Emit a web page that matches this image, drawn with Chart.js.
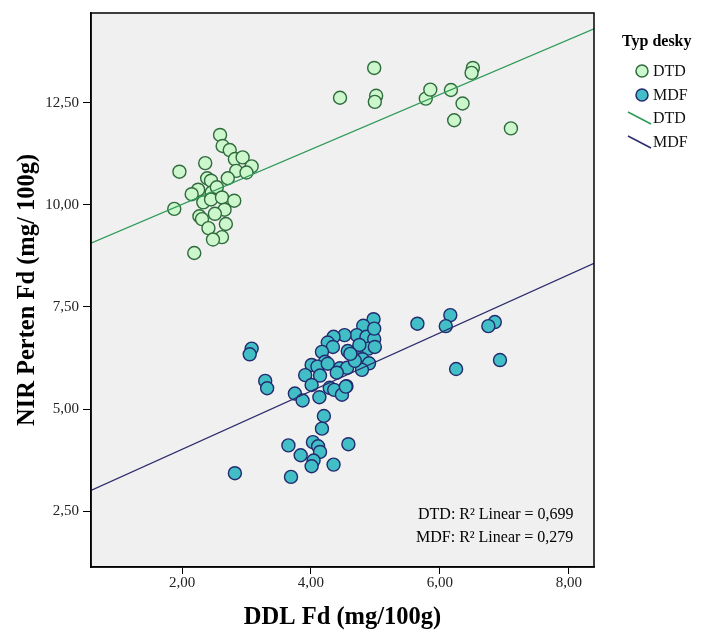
<!DOCTYPE html>
<html>
<head>
<meta charset="utf-8">
<script src="https://cdn.jsdelivr.net/npm/chart.js@4.4.0/dist/chart.umd.min.js"></script>
<style>
  body { margin: 0; background: #fff; }
</style>
</head>
<body>
<div style="width:714px;height:632px"><canvas id="myChart" width="714" height="632"></canvas></div>
<script>
// DTD points (DDL Fd, NIR Perten Fd)
var dtdX = [2.59, 2.63, 2.74, 2.82, 2.94, 3.08, 2.84, 3.00, 1.96, 2.36, 2.39, 2.45, 2.71, 2.25, 2.15,
            2.46, 2.54, 2.33, 2.45, 2.62, 2.81, 1.88, 2.66, 2.51, 2.27, 2.31, 2.68, 2.41, 2.62, 2.48, 2.19,
            4.98, 4.45, 5.01, 4.99, 5.78, 5.85, 6.17, 6.35, 6.22, 6.51, 6.49, 7.10];
var dtdY = [11.71, 11.44, 11.34, 11.12, 11.16, 10.94, 10.83, 10.79, 10.81, 11.02, 10.65, 10.59, 10.65, 10.37, 10.26,
            10.30, 10.43, 10.06, 10.13, 10.18, 10.10, 9.90, 9.88, 9.78, 9.72, 9.65, 9.53, 9.43, 9.21, 9.15, 8.82,
            13.35, 12.62, 12.67, 12.52, 12.60, 12.82, 12.81, 12.48, 12.07, 13.35, 13.23, 11.87];

// MDF points
var mdfX = [4.97, 4.81, 4.71, 4.86, 4.98, 4.52, 4.35, 4.26, 4.34, 4.75, 4.89, 4.57, 4.17, 4.80, 4.90,
            4.22, 4.01, 4.10, 4.45, 4.56, 4.79, 3.91, 4.14, 4.01, 4.29, 4.55, 4.36, 4.48, 4.13, 3.75,
            3.87, 3.08, 3.05, 3.29, 3.32, 4.20, 4.17, 3.65, 4.03, 4.11, 4.14, 4.58, 3.84, 4.04, 4.01,
            4.35, 2.82, 3.69, 5.65, 6.16, 6.09, 6.85, 6.75, 6.93, 6.25, 4.98, 4.75, 4.99, 4.68, 4.54,
            4.26, 4.61, 4.40];
var mdfY = [7.20, 7.04, 6.81, 6.77, 6.71, 6.81, 6.77, 6.63, 6.52, 6.52, 6.48, 6.42, 6.40, 6.22, 6.12,
            6.16, 6.08, 6.04, 6.00, 6.01, 5.96, 5.83, 5.82, 5.59, 5.52, 5.56, 5.47, 5.35, 5.29, 5.38,
            5.21, 6.48, 6.34, 5.69, 5.51, 4.83, 4.52, 4.11, 4.19, 4.09, 3.95, 4.14, 3.87, 3.74, 3.60,
            3.64, 3.43, 3.34, 7.09, 7.30, 7.03, 7.13, 7.03, 6.20, 5.98, 6.97, 6.57, 6.52, 6.18, 5.55,
            6.11, 6.35, 5.89];

// fit lines, read at the frame edges
var dtdFitX = [0.589, 8.388];
var dtdFitY = [9.06, 14.31];
var mdfFitX = [0.589, 8.388];
var mdfFitY = [3.01, 8.57];

var xTicks = [2, 4, 6, 8];
var yTicks = [2.5, 5, 7.5, 10, 12.5];
var xRange = [0.589, 8.388];
var yRange = [1.134, 14.695];

var legendTitle = "Typ desky";
var legendLabels = ["DTD", "MDF", "DTD", "MDF"];
var r2Text = ["DTD: R\u00b2 Linear = 0,699", "MDF: R\u00b2 Linear = 0,279"];

var SERIF = '"Liberation Serif", "Times New Roman", serif';
var dtdFill = "#ccf7cc", dtdEdge = "#2f6b3c", dtdLine = "#2e9a57";
var mdfFill = "#42bfc6", mdfEdge = "#232a6e", mdfLine = "#2c2c6e";

function toXY(xs, ys) {
  var out = [];
  for (var i = 0; i < xs.length; i++) out.push({ x: xs[i], y: ys[i] });
  return out;
}
function comma(v) { return v.toFixed(2).replace(".", ","); }

var framePlugin = {
  id: "frame",
  beforeDraw: function (chart) {
    var a = chart.chartArea, ctx = chart.ctx;
    ctx.save();
    ctx.fillStyle = "#f0f0f0";
    ctx.fillRect(a.left, a.top, a.right - a.left, a.bottom - a.top);
    ctx.restore();
  },
  afterDraw: function (chart) {
    var a = chart.chartArea, ctx = chart.ctx;
    ctx.save();
    ctx.strokeStyle = "#000";
    ctx.lineWidth = 1.5;
    ctx.strokeRect(a.left, a.top, a.right - a.left, a.bottom - a.top);

    // R2 notes
    ctx.fillStyle = "#000";
    ctx.font = "16px " + SERIF;
    ctx.textBaseline = "middle";
    ctx.textAlign = "left";
    ctx.fillText(r2Text[0], 418, 515);
    ctx.fillText(r2Text[1], 416, 538);

    // legend
    ctx.font = "bold 16px " + SERIF;
    ctx.fillText(legendTitle, 622, 42);
    ctx.font = "16px " + SERIF;
    var rows = [71, 95, 118, 142];
    ctx.lineWidth = 1.5;
    ctx.fillStyle = dtdFill; ctx.strokeStyle = dtdEdge;
    ctx.beginPath(); ctx.arc(642, rows[0], 6, 0, Math.PI * 2); ctx.fill(); ctx.stroke();
    ctx.fillStyle = mdfFill; ctx.strokeStyle = mdfEdge;
    ctx.beginPath(); ctx.arc(642, rows[1], 6, 0, Math.PI * 2); ctx.fill(); ctx.stroke();
    ctx.strokeStyle = dtdLine;
    ctx.beginPath(); ctx.moveTo(628, rows[2] - 6); ctx.lineTo(651, rows[2] + 6); ctx.stroke();
    ctx.strokeStyle = mdfLine;
    ctx.beginPath(); ctx.moveTo(628, rows[3] - 6); ctx.lineTo(651, rows[3] + 6); ctx.stroke();
    ctx.fillStyle = "#111";
    for (var i = 0; i < rows.length; i++) ctx.fillText(legendLabels[i], 653, rows[i] + 1);
    ctx.restore();
  }
};

var ctx = document.getElementById("myChart").getContext("2d");
var myChart = new Chart(ctx, {
  type: "scatter",
  data: {
    datasets: [{
        label: "DTD fit",
        type: "line",
        data: toXY(dtdFitX, dtdFitY),
        borderColor: dtdLine,
        borderWidth: 1.3,
        pointRadius: 0,
        fill: false,
        order: 0
      }, {
        label: "MDF fit",
        type: "line",
        data: toXY(mdfFitX, mdfFitY),
        borderColor: mdfLine,
        borderWidth: 1.3,
        pointRadius: 0,
        fill: false,
        order: 1
      }, {
        label: "DTD",
        data: toXY(dtdX, dtdY),
        backgroundColor: dtdFill,
        borderColor: dtdEdge,
        borderWidth: 1.4,
        pointRadius: 6.5,
        order: 3
      }, {
        label: "MDF",
        data: toXY(mdfX, mdfY),
        backgroundColor: mdfFill,
        borderColor: mdfEdge,
        borderWidth: 1.4,
        pointRadius: 6.5,
        order: 2
      }]
  },
  options: {
    responsive: false,
    animation: false,
    layout: { padding: { top: 10, right: 120, left: 0, bottom: 0 } },
    plugins: {
      legend: { display: false },
      tooltip: { enabled: false }
    },
    scales: {
      x: {
        type: "linear",
        min: xRange[0],
        max: xRange[1],
        afterBuildTicks: function (s) { s.ticks = xTicks.map(function (v) { return { value: v }; }); },
        afterFit: function (s) { s.height = 632 - 567; },
        ticks: {
          callback: function (v) { return comma(v); },
          font: { family: SERIF, size: 15 },
          color: "#222",
          padding: 0,
          maxRotation: 0
        },
        grid: { drawOnChartArea: false, drawTicks: true, tickLength: 7, color: "#000", lineWidth: 1 },
        border: { color: "#000", width: 1.5 },
        title: {
          display: true,
          text: "DDL Fd (mg/100g)",
          font: { family: SERIF, size: 24.5, weight: "bold" },
          color: "#000",
          padding: { top: 0, bottom: 0 }
        }
      },
      y: {
        type: "linear",
        min: yRange[0],
        max: yRange[1],
        afterBuildTicks: function (s) { s.ticks = yTicks.map(function (v) { return { value: v }; }); },
        afterFit: function (s) { s.width = 91; },
        ticks: {
          callback: function (v) { return comma(v); },
          font: { family: SERIF, size: 15 },
          color: "#222",
          padding: 4
        },
        grid: { drawOnChartArea: false, drawTicks: true, tickLength: 8, color: "#000", lineWidth: 1 },
        border: { color: "#000", width: 1.5 },
        title: {
          display: true,
          text: "NIR Perten Fd (mg/ 100g)",
          font: { family: SERIF, size: 24.5, weight: "bold" },
          color: "#000",
          padding: { top: 13, bottom: 0 }
        }
      }
    }
  },
  plugins: [framePlugin]
});
</script>
</body>
</html>
